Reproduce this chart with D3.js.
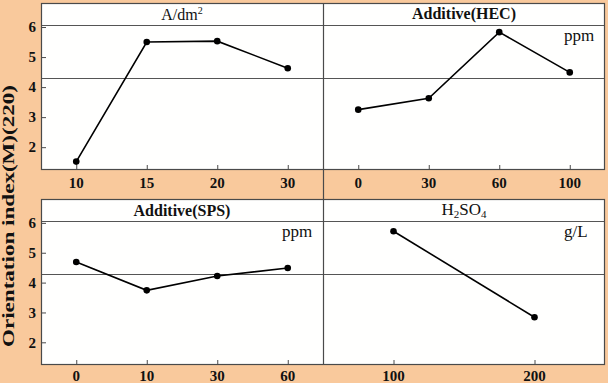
<!DOCTYPE html>
<html>
<head>
<meta charset="utf-8">
<script src="https://cdn.jsdelivr.net/npm/d3@7"></script>
<style>
  html, body { margin: 0; padding: 0; background: #F9C99C; }
  svg { display: block; }
  text { font-family: "Liberation Serif", "Times New Roman", serif; fill: #111; }
</style>
</head>
<body>
<svg id="chart" width="608" height="383"></svg>
<script>
// ---- data ----
const cdCats = ["10", "15", "20", "30"];
const cdVals = [1.52, 5.50, 5.53, 4.63];
const hecCats = ["0", "30", "60", "100"];
const hecVals = [3.25, 3.63, 5.83, 4.49];
const spsCats = ["0", "10", "30", "60"];
const spsVals = [4.69, 3.74, 4.22, 4.49];
const acidCats = ["100", "200"];
const acidVals = [5.72, 2.84];
const yTicks = [2, 3, 4, 5, 6];
const refValue = 4.3;
const titleLineValue = 6.07;
const yDomain = [1.24, 6.8];
const yLabel = "Orientation index(M)(220)";
const units = ["", "ppm", "ppm", "g/L"];

// ---- layout ----
const svg = d3.select("#chart");
const W = 608, H = 383;
const bg = "#F9C99C";
svg.append("rect").attr("width", W).attr("height", H).attr("fill", bg);

const cols = [[41, 323], [323, 605]];
const rows = [[3, 170], [199, 365]];
const labelOffsets = [18, 16];

const panels = [
  { cats: cdCats, vals: cdVals, c: 0, r: 0, unit: units[0], title: "cd" },
  { cats: hecCats, vals: hecVals, c: 1, r: 0, unit: units[1], title: "hec" },
  { cats: spsCats, vals: spsVals, c: 0, r: 1, unit: units[2], title: "sps" },
  { cats: acidCats, vals: acidVals, c: 1, r: 1, unit: units[3], title: "acid" }
];

const border = "#4a4a4a";

rows.forEach((row, ri) => {
  const y = d3.scaleLinear().domain(yDomain).range([row[1], row[0]]);
  svg.append("rect").attr("x", cols[0][0]).attr("y", row[0])
    .attr("width", cols[1][1] - cols[0][0]).attr("height", row[1] - row[0])
    .attr("fill", "#fffffe");
  [titleLineValue, refValue].forEach(v => {
    svg.append("line").attr("x1", cols[0][0]).attr("x2", cols[1][1])
      .attr("y1", Math.round(y(v)) + 0.5).attr("y2", Math.round(y(v)) + 0.5)
      .attr("stroke", "#555").attr("stroke-width", 1);
  });
  const yAxis = d3.axisRight(y).tickValues(yTicks).tickSize(5).tickFormat("");
  const gy = svg.append("g").attr("transform", `translate(${cols[0][0]},0)`).call(yAxis);
  gy.select(".domain").remove();
  gy.selectAll(".tick line").attr("stroke", border);
  yTicks.forEach(t => {
    svg.append("text").attr("x", 36).attr("y", y(t)).attr("dy", "0.35em")
      .attr("text-anchor", "end").attr("font-size", 15).attr("font-weight", "bold")
      .text(t);
  });
  svg.append("rect").attr("x", cols[0][0] + 0.5).attr("y", row[0] + 0.5)
    .attr("width", cols[1][1] - cols[0][0] - 1).attr("height", row[1] - row[0] - 1)
    .attr("fill", "none").attr("stroke", border).attr("stroke-width", 1.2);
});

svg.append("line").attr("x1", 323.5).attr("x2", 323.5).attr("y1", rows[0][0]).attr("y2", rows[1][1])
  .attr("stroke", border).attr("stroke-width", 1.2);

panels.forEach(p => {
  const col = cols[p.c], row = rows[p.r];
  const x = d3.scalePoint().domain(p.cats).range(col).padding(0.5);
  const y = d3.scaleLinear().domain(yDomain).range([row[1], row[0]]);
  const xAxis = d3.axisTop(x).tickSize(5).tickFormat("");
  const gx = svg.append("g").attr("transform", `translate(0,${row[1]})`).call(xAxis);
  gx.select(".domain").remove();
  gx.selectAll(".tick line").attr("stroke", border);
  p.cats.forEach(c => {
    svg.append("text").attr("x", x(c)).attr("y", row[1] + labelOffsets[p.r])
      .attr("text-anchor", "middle").attr("font-size", 15).attr("font-weight", "bold")
      .text(c);
  });
  const pts = p.cats.map((c, i) => [x(c), y(p.vals[i])]);
  svg.append("path").attr("d", d3.line()(pts)).attr("fill", "none")
    .attr("stroke", "#000").attr("stroke-width", 1.6);
  svg.selectAll(null).data(pts).enter().append("circle")
    .attr("cx", d => d[0]).attr("cy", d => d[1]).attr("r", 3.3).attr("fill", "#000");
  if (p.unit) {
    svg.append("text").attr("x", col[0] + 241).attr("y", row[0] + 38)
      .attr("font-size", 17).text(p.unit);
  }
  const cx = (col[0] + col[1]) / 2;
  if (p.title === "cd") {
    const t = svg.append("text").attr("x", cx).attr("y", row[0] + 17)
      .attr("text-anchor", "middle").attr("font-size", 16);
    t.append("tspan").text("A/dm");
    t.append("tspan").attr("font-size", 10).attr("dy", -6).text("2");
  } else if (p.title === "hec") {
    svg.append("text").attr("x", cx).attr("y", row[0] + 16)
      .attr("text-anchor", "middle").attr("font-size", 16).attr("font-weight", "bold")
      .text("Additive(HEC)");
  } else if (p.title === "sps") {
    svg.append("text").attr("x", cx).attr("y", row[0] + 17)
      .attr("text-anchor", "middle").attr("font-size", 16).attr("font-weight", "bold")
      .text("Additive(SPS)");
  } else {
    const t = svg.append("text").attr("x", cx).attr("y", row[0] + 16)
      .attr("text-anchor", "middle").attr("font-size", 17);
    t.append("tspan").text("H");
    t.append("tspan").attr("font-size", 11).attr("dy", 3).text("2");
    t.append("tspan").attr("dy", -3).text("SO");
    t.append("tspan").attr("font-size", 11).attr("dy", 3).text("4");
  }
});

svg.append("text")
  .attr("transform", "translate(14,216) rotate(-90)")
  .attr("text-anchor", "middle").attr("font-size", 17).attr("font-weight", "bold")
  .attr("textLength", 262).attr("lengthAdjust", "spacingAndGlyphs")
  .text(yLabel);
</script>
</body>
</html>
